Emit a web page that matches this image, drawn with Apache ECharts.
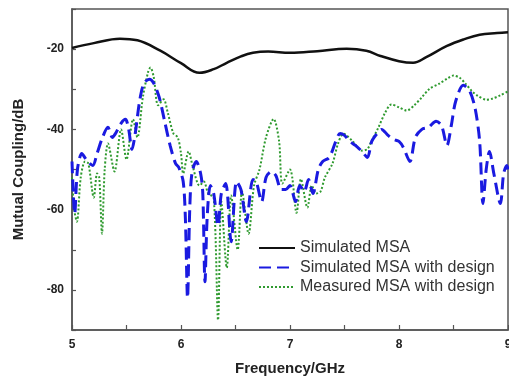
<!DOCTYPE html>
<html>
<head>
<meta charset="utf-8">
<script src="https://cdn.jsdelivr.net/npm/echarts@6/dist/echarts.min.js"></script>
<style>
html,body{margin:0;padding:0;background:#fff;}
#c{width:509px;height:379px;}
</style>
</head>
<body>
<div id="c"></div>
<script>
// Simulated MSA
var freqSim = [5.0,5.2,5.44,5.6,5.81,6.0,6.17,6.3,6.42,6.55,6.66,6.8,7.0,7.25,7.52,7.7,7.83,8.0,8.13,8.25,8.44,8.6,8.74,8.9,9.0];
var simMSA  = [-19.7,-18.5,-17.4,-17.8,-20.4,-23.5,-25.9,-25,-23.4,-21.8,-20.9,-20.6,-20.9,-20.5,-19.9,-20.4,-21.7,-23,-23.4,-22,-19.2,-17.5,-16.4,-16,-15.8];

// Simulated MSA with design
var freqSimD = [5.00,5.025,5.05,5.09,5.13,5.19,5.23,5.28,5.33,5.37,5.40,5.45,5.49,5.52,5.55,5.58,5.62,5.66,5.71,5.75,5.80,5.85,5.90,5.95,5.98,6.02,6.04,6.06,6.08,6.10,6.14,6.18,6.20,6.22,6.24,6.27,6.30,6.34,6.37,6.41,6.46,6.51,6.55,6.60,6.66,6.69,6.74,6.78,6.83,6.87,6.92,6.96,7.00,7.05,7.09,7.13,7.17,7.21,7.26,7.30,7.36,7.42,7.46,7.50,7.55,7.60,7.66,7.71,7.75,7.80,7.84,7.90,7.95,8.00,8.04,8.10,8.15,8.21,8.27,8.34,8.39,8.44,8.48,8.52,8.59,8.65,8.70,8.74,8.77,8.80,8.83,8.87,8.93,8.96,8.99,9.00];
var simDesign = [-48,-61,-50,-46,-47.5,-49,-46,-42,-39.5,-42,-41,-38.5,-37.5,-40,-45,-41,-33,-28.5,-27.5,-28.5,-32,-38,-44,-48.5,-49.5,-53,-62,-82,-60,-51,-48,-51,-56,-78,-62,-54,-56,-64,-56,-53.5,-68,-53,-55,-63,-52.5,-53,-58,-52,-50.5,-51.5,-55,-55,-54,-58,-54,-55.5,-52.5,-56,-50,-48,-47,-43,-41,-41.5,-43,-44,-45.5,-47,-43,-41,-40,-41.5,-42.5,-43,-44.5,-48,-42,-40,-39.5,-38,-39,-44,-39,-33,-29,-30.5,-35,-43,-58.5,-50,-45.5,-51,-58.5,-51,-49,-50];

// Measured MSA with design
var freqMeas = [5.00,5.02,5.045,5.08,5.12,5.15,5.20,5.23,5.25,5.275,5.30,5.33,5.39,5.45,5.50,5.56,5.60,5.65,5.70,5.72,5.75,5.79,5.84,5.88,5.93,5.97,6.00,6.02,6.07,6.11,6.17,6.21,6.25,6.30,6.34,6.37,6.42,6.46,6.52,6.56,6.62,6.67,6.72,6.78,6.85,6.90,6.93,7.00,7.06,7.10,7.16,7.20,7.24,7.28,7.32,7.39,7.44,7.49,7.57,7.66,7.71,7.75,7.81,7.87,7.93,8.00,8.07,8.14,8.21,8.28,8.37,8.45,8.50,8.56,8.61,8.67,8.72,8.80,8.85,8.93,9.00];
var measDesign = [-52,-60,-63,-52,-48,-48.5,-57,-51,-52,-66,-50,-43.5,-50.5,-40,-47.5,-37.5,-42,-32,-25.5,-24.6,-27,-34,-32.5,-36,-41,-42,-46,-51,-45.5,-49.5,-54,-53,-56,-57,-87.5,-58,-74.5,-56.5,-70,-55.5,-66,-54,-50,-42,-37.4,-43,-53.5,-50,-60.8,-52.4,-59.5,-54,-56,-55.5,-52,-48.5,-43.6,-41.1,-42.8,-45.3,-44.9,-42.8,-39.6,-36,-33.8,-34.5,-35.3,-34,-32,-29.9,-28.6,-27.2,-26.6,-27.2,-28.6,-30.5,-31.6,-32.6,-32.4,-31.5,-30.5];

var yLabels = [-20,-40,-60,-80];

function pairs(xs, ys){ return xs.map(function(x,i){ return [x, ys[i]]; }); }

var chart = echarts.init(document.getElementById('c'));
var font = '"Liberation Sans", Arial, sans-serif';
chart.setOption({
  animation: false,
  backgroundColor: '#fff',
  grid: {left: 72, right: 1, top: 9, bottom: 49, show: true, borderColor: '#555', borderWidth: 1.5, containLabel: false, outerBoundsMode: 'none'},
  legend: {
    orient: 'vertical', left: 253, top: 235, itemWidth: 36, itemHeight: 14, itemGap: 3.5,
    itemStyle: {opacity: 0},
    textStyle: {fontFamily: font, fontSize: 16, color: '#333'},
    data: ['Simulated MSA','Simulated MSA with design','Measured MSA with design']
  },
  xAxis: {
    type: 'value', min: 5, max: 9, interval: 1,
    name: 'Frequency/GHz', nameLocation: 'middle', nameGap: 31,
    nameTextStyle: {fontFamily: font, fontSize: 15, fontWeight: 'bold', color: '#222'},
    axisLine: {lineStyle: {color: '#555', width: 1.5}},
    axisTick: {inside: true, length: 5, lineStyle: {color: '#555', width: 1.2}},
    minorTick: {show: true, splitNumber: 2, length: 5, lineStyle: {color: '#555', width: 1.2}},
    splitLine: {show: false},
    axisLabel: {fontFamily: font, fontSize: 12, fontWeight: 'bold', color: '#222', margin: 9}
  },
  yAxis: {
    type: 'value', min: -90, max: -10, interval: 10,
    name: 'Mutual Coupling/dB', nameLocation: 'middle', nameGap: 46, nameRotate: 90,
    nameTextStyle: {fontFamily: font, fontSize: 15, fontWeight: 'bold', color: '#222'},
    axisLine: {show: true, lineStyle: {color: '#555', width: 1.5}},
    axisTick: {show: true, inside: true, length: 4, lineStyle: {color: '#555', width: 1.2}},
    splitLine: {show: false},
    axisLabel: {fontFamily: font, fontSize: 12, fontWeight: 'bold', color: '#222', margin: 8,
      formatter: function(v){ return yLabels.indexOf(v) >= 0 ? String(v) : ''; }}
  },
  series: [
    {name: 'Simulated MSA', type: 'line', data: pairs(freqSim, simMSA), symbol: 'none', smooth: 0.4,
     lineStyle: {color: '#111', width: 2.5}, itemStyle: {color: '#111'}, z: 3},
    {name: 'Simulated MSA with design', type: 'line', data: pairs(freqSimD, simDesign), symbol: 'none', smooth: 0.3,
     lineStyle: {color: '#1a1ae0', width: 3, type: [12, 6]}, itemStyle: {color: '#1a1ae0'}, z: 4},
    {name: 'Measured MSA with design', type: 'line', data: pairs(freqMeas, measDesign), symbol: 'none', smooth: 0.3,
     lineStyle: {color: '#2f9a2f', width: 2, type: [2, 2]}, itemStyle: {color: '#2f9a2f'}, z: 2}
  ]
});
</script>
</body>
</html>
